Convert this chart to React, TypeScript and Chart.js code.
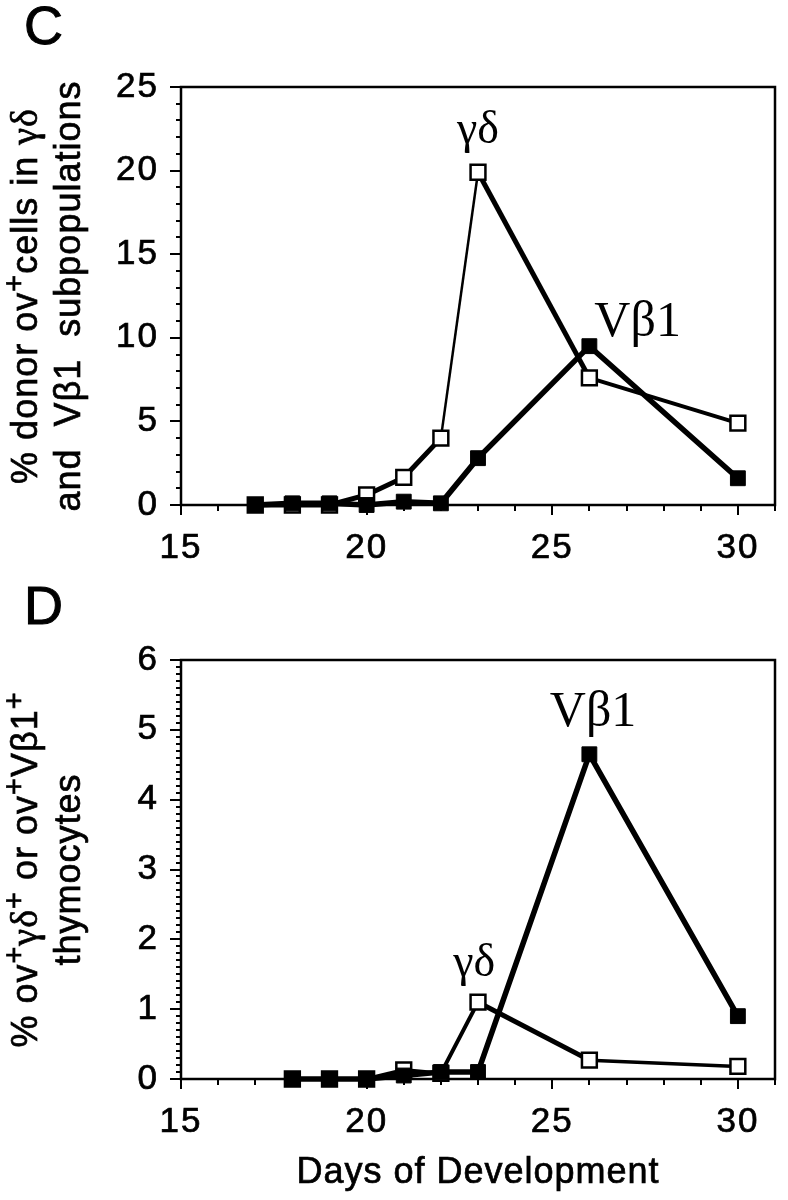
import React, { useEffect, useRef } from 'react';
import { Chart, registerables } from 'chart.js';

Chart.register(...registerables);

// ---------- Panel C data ----------
const daysC = [17, 18, 19, 20, 21, 22, 23, 26, 30];
const vb1C = [0, 0.1, 0.1, 0, 0.2, 0.1, 2.8, 9.5, 1.6];
const gdC = [0, 0, 0, 0.6, 1.65, 4.0, 19.9, 7.6, 4.9];
const yTicksC = [0, 5, 10, 15, 20, 25];

// ---------- Panel D data ----------
const daysD = [18, 19, 20, 21, 22, 23, 26, 30];
const vb1D = [0, 0, 0, 0.05, 0.1, 0.1, 4.65, 0.9];
const gdD = [0, 0, 0, 0.13, 0.08, 1.1, 0.27, 0.18];
const yTicksD = [0, 1, 2, 3, 4, 5, 6];

const xTicks = [15, 20, 25, 30];

// annotation labels: [text, day, value]
const labelsC: [string, number, number][] = [
  ['γδ', 23, 22.4],
  ['Vβ1', 27.3, 10.9],
];
const labelsD: [string, number, number][] = [
  ['Vβ1', 26.1, 5.25],
  ['γδ', 22.9, 1.65],
];

// y-axis titles: each line is a list of [text, kind] (n = normal, s = superscript, g = serif greek)
type Seg = [string, 'n' | 's' | 'g'];
const yTitleC: Seg[][] = [
  [['% donor ov', 'n'], ['+', 's'], ['cells in ', 'n'], ['γδ', 'g']],
  [['and  Vβ1  subpopulations', 'n']],
];
const yTitleD: Seg[][] = [
  [['% ov', 'n'], ['+', 's'], ['γδ', 'g'], ['+', 's'], [' or ov', 'n'], ['+', 's'], ['Vβ1', 'n'], ['+', 's']],
  [['thymocytes', 'n']],
];
const xTitleD = 'Days of Development';

const SANS = '"Liberation Sans", Arial, sans-serif';
const SERIF = '"Liberation Serif", "DejaVu Serif", serif';
const FS = 35; // tick labels
const TS = 36; // titles

const axisDecor = {
  id: 'axisDecor',
  beforeDraw(chart: any) {
    (chart.ctx as any).letterSpacing = '2px';
  },
  beforeDatasetsDraw(chart: any, _args: any, opts: any) {
    const { ctx, chartArea, scales } = chart;
    const { left, right, top, bottom } = chartArea;
    const x = scales.x;
    const y = scales.y;
    ctx.save();
    ctx.strokeStyle = '#000';
    ctx.lineWidth = 2.5;
    ctx.strokeRect(left, top, right - left, bottom - top);
    ctx.lineWidth = 2;
    for (let v = x.min; v <= x.max + 1e-9; v += opts.xMinor) {
      const major = Math.abs(v / opts.xMajor - Math.round(v / opts.xMajor)) < 1e-6;
      const px = Math.round(x.getPixelForValue(v));
      ctx.beginPath();
      ctx.moveTo(px, bottom);
      ctx.lineTo(px, bottom + (major ? 10 : 6));
      ctx.stroke();
    }
    const n = Math.round((y.max - y.min) / opts.yMinor);
    for (let i = 0; i <= n; i++) {
      const v = y.min + i * opts.yMinor;
      const major = Math.abs(v / opts.yMajor - Math.round(v / opts.yMajor)) < 1e-6;
      const py = Math.round(y.getPixelForValue(v));
      ctx.beginPath();
      ctx.moveTo(left, py);
      ctx.lineTo(left - (major ? 11 : 5), py);
      ctx.stroke();
    }
    ctx.restore();
  },
  afterDatasetsDraw(chart: any, _args: any, opts: any) {
    const { ctx, scales, chartArea } = chart;
    ctx.save();
    ctx.fillStyle = '#000';
    ctx.strokeStyle = '#000';
    ctx.lineWidth = 0.7;
    ctx.textAlign = 'center';
    ctx.textBaseline = 'middle';
    (ctx as any).letterSpacing = '0px';
    for (const [text, dx, dy] of opts.labels as [string, number, number][]) {
      ctx.font = `${text.startsWith('V') ? 50 : 46}px ${SERIF}`;
      ctx.fillText(text, scales.x.getPixelForValue(dx), scales.y.getPixelForValue(dy));
    }
    (ctx as any).letterSpacing = '1px';
    const fontOf = (k: string) =>
      k === 's' ? `${Math.round(TS * 0.8)}px ${SANS}` : k === 'g' ? `${TS + 2}px ${SERIF}` : `${TS}px ${SANS}`;
    const cy = (chartArea.top + chartArea.bottom) / 2;
    ctx.textAlign = 'left';
    ctx.textBaseline = 'alphabetic';
    (opts.title as Seg[][]).forEach((line, i) => {
      let total = 0;
      for (const [t, k] of line) {
        ctx.font = fontOf(k);
        total += ctx.measureText(t).width;
      }
      ctx.save();
      ctx.translate(opts.titleX + i * opts.titlePitch, cy);
      ctx.rotate(-Math.PI / 2);
      let pos = -total / 2;
      for (const [t, k] of line) {
        ctx.font = fontOf(k);
        const yy = k === 's' ? -TS * 0.36 : 0;
        ctx.fillText(t, pos, yy);
        ctx.strokeText(t, pos, yy);
        pos += ctx.measureText(t).width;
      }
      ctx.restore();
    });
    if (opts.xTitle) {
      ctx.font = `${TS}px ${SANS}`;
      ctx.textAlign = 'center';
      const cx = (chartArea.left + chartArea.right) / 2;
      const by = chartArea.bottom + opts.xTitleOffset;
      ctx.fillText(opts.xTitle, cx, by);
      ctx.strokeText(opts.xTitle, cx, by);
    }
    ctx.restore();
  },
  afterDraw(chart: any) {
    (chart.ctx as any).letterSpacing = '0px';
  },
};

function makeConfig(opts: {
  days: number[];
  vb1: number[];
  gd: number[];
  yMax: number;
  yTicks: number[];
  yMinor: number;
  yMajor: number;
  yTitle: Seg[][];
  xTitle?: string;
  padTop: number;
  xHeight: number;
  labels: [string, number, number][];
  gdWidth: (x0: number, x1: number) => number;
}) {
  const tickFont = { family: SANS, size: FS };
  return {
    type: 'line' as const,
    data: {
      datasets: [
        {
          label: 'Vβ1',
          data: opts.days.map((d, i) => ({ x: d, y: opts.vb1[i] })),
          borderColor: '#000',
          backgroundColor: '#000',
          borderWidth: 5.5,
          pointStyle: 'rect',
          pointRadius: 10.5,
          pointBorderWidth: 1,
          pointBorderColor: '#000',
          pointBackgroundColor: '#000',
          clip: false,
          tension: 0,
        },
        {
          label: 'γδ',
          data: opts.days.map((d, i) => ({ x: d, y: opts.gd[i] })),
          borderColor: '#000',
          backgroundColor: '#fff',
          borderWidth: 4,
          segment: {
            borderWidth: (c: any) => opts.gdWidth(c.p0.parsed.x, c.p1.parsed.x),
          },
          pointStyle: 'rect',
          pointRadius: 10.5,
          pointBorderWidth: 2.5,
          pointBorderColor: '#000',
          pointBackgroundColor: '#fff',
          clip: false,
          tension: 0,
        },
      ],
    },
    options: {
      animation: false,
      responsive: false,
      events: [],
      layout: { padding: { top: opts.padTop, right: 9, left: 0, bottom: 0 } },
      plugins: {
        legend: { display: false },
        tooltip: { enabled: false },
        axisDecor: {
          xMinor: 1,
          xMajor: 5,
          yMinor: opts.yMinor,
          yMajor: opts.yMajor,
          labels: opts.labels,
          title: opts.yTitle,
          titleX: 37,
          titlePitch: 43,
          xTitle: opts.xTitle,
          xTitleOffset: 104,
        },
      },
      scales: {
        x: {
          type: 'linear',
          min: 15,
          max: 31,
          afterBuildTicks: (s: any) => {
            s.ticks = xTicks.map((v) => ({ value: v }));
          },
          afterFit: (s: any) => {
            s.height = opts.xHeight;
          },
          grid: { display: false, drawTicks: false },
          border: { display: false },
          ticks: {
            font: tickFont,
            color: '#000',
            padding: 22,
            maxRotation: 0,
            autoSkip: false,
            textStrokeColor: '#000',
            textStrokeWidth: 0.7,
          },
          title: { display: false },
        },
        y: {
          type: 'linear',
          min: 0,
          max: opts.yMax,
          afterBuildTicks: (s: any) => {
            s.ticks = opts.yTicks.map((v) => ({ value: v }));
          },
          afterFit: (s: any) => {
            s.width = 181;
          },
          grid: { display: false, drawTicks: false },
          border: { display: false },
          ticks: {
            font: tickFont,
            color: '#000',
            padding: 22,
            autoSkip: false,
            textStrokeColor: '#000',
            textStrokeWidth: 0.7,
          },
          title: { display: false },
        },
      },
    },
    plugins: [axisDecor],
  };
}

function Panel(props: {
  cfg: any;
  width: number;
  height: number;
  top: number;
  letter: string;
  letterTop: number;
}) {
  const ref = useRef<HTMLCanvasElement>(null);
  useEffect(() => {
    if (!ref.current) return;
    const chart = new Chart(ref.current, props.cfg);
    return () => chart.destroy();
  }, []);
  return (
    <div style={{ position: 'absolute', left: 0, top: props.top, width: props.width, height: props.height }}>
      <canvas ref={ref} width={props.width} height={props.height} style={{ display: 'block' }} />
      <div
        style={{
          position: 'absolute',
          left: 24,
          top: props.letterTop,
          fontFamily: SANS,
          fontSize: 54,
          lineHeight: '54px',
          color: '#000',
          WebkitTextStroke: '1px #000',
        }}
      >
        {props.letter}
      </div>
    </div>
  );
}

export default function App() {
  const cfgC = makeConfig({
    days: daysC,
    vb1: vb1C,
    gd: gdC,
    yMax: 25,
    yTicks: yTicksC,
    yMinor: 1,
    yMajor: 5,
    yTitle: yTitleC,
    padTop: 87,
    xHeight: 55,
    labels: labelsC,
    gdWidth: (x0, x1) => (x0 === 22 && x1 === 23 ? 2.5 : x0 >= 26 ? 4 : 5),
  });
  const cfgD = makeConfig({
    days: daysD,
    vb1: vb1D,
    gd: gdD,
    yMax: 6,
    yTicks: yTicksD,
    yMinor: 0.1,
    yMajor: 1,
    yTitle: yTitleD,
    xTitle: xTitleD,
    padTop: 100,
    xHeight: 121,
    labels: labelsD,
    gdWidth: (x0, x1) => (x0 === 23 ? 5 : x0 >= 26 ? 3.5 : 4),
  });
  return (
    <div style={{ position: 'absolute', left: 0, top: 0, width: 788, height: 1200, background: '#fff' }}>
      <Panel cfg={cfgC} width={788} height={560} top={0} letter="C" letterTop={-2} />
      <Panel cfg={cfgD} width={788} height={640} top={560} letter="D" letterTop={18} />
    </div>
  );
}
